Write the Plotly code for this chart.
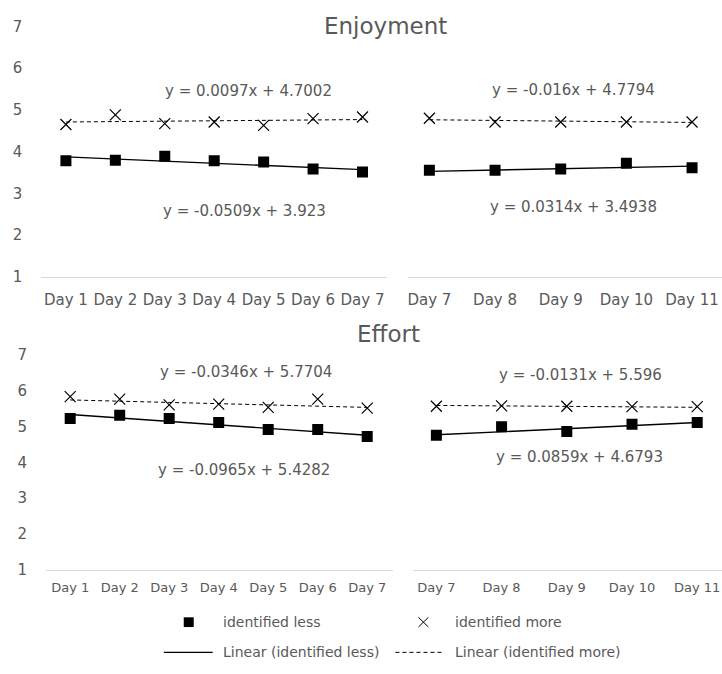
import plotly.graph_objects as go

# ---------------- data ----------------
days_a = ["Day 1", "Day 2", "Day 3", "Day 4", "Day 5", "Day 6", "Day 7"]
days_b = ["Day 7", "Day 8", "Day 9", "Day 10", "Day 11"]

enj_less_a = [3.78, 3.79, 3.89, 3.78, 3.75, 3.58, 3.51]
enj_more_a = [4.65, 4.88, 4.67, 4.71, 4.63, 4.79, 4.83]
enj_less_b = [3.55, 3.55, 3.58, 3.72, 3.61]
enj_more_b = [4.80, 4.71, 4.71, 4.71, 4.71]

eff_less_a = [5.22, 5.31, 5.22, 5.11, 4.91, 4.91, 4.72]
eff_more_a = [5.83, 5.76, 5.60, 5.62, 5.53, 5.76, 5.51]
eff_less_b = [4.75, 4.99, 4.86, 5.06, 5.11]
eff_more_b = [5.56, 5.57, 5.56, 5.55, 5.55]

# trendline coefficients (slope, intercept) as printed on the chart
trend_slopes = {"enj_less_a": -0.0509, "enj_more_a": 0.0097,
                "enj_less_b": 0.0314, "enj_more_b": -0.016,
                "eff_less_a": -0.0965, "eff_more_a": -0.0346,
                "eff_less_b": 0.0859, "eff_more_b": -0.0131}
trend_intercepts = {"enj_less_a": 3.923, "enj_more_a": 4.7002,
                    "enj_less_b": 3.4938, "enj_more_b": 4.7794,
                    "eff_less_a": 5.4282, "eff_more_a": 5.7704,
                    "eff_less_b": 4.6793, "eff_more_b": 5.596}

y_ticks = [1, 2, 3, 4, 5, 6, 7]
titles = ["Enjoyment", "Effort"]
legend_labels = ["identified less", "identified more",
                 "Linear (identified less)", "Linear (identified more)"]

# ---------------- styling ----------------
W, H = 722, 674
FONT = "DejaVu Sans"
GRAY = "#595959"
AXIS = "#d9d9d9"


def px(x):
    return x / W


def py(y):
    return 1 - y / H


fig = go.Figure()

panels = [
    ("enj", "a", days_a, enj_less_a, enj_more_a, ""),
    ("enj", "b", days_b, enj_less_b, enj_more_b, "2"),
    ("eff", "a", days_a, eff_less_a, eff_more_a, "3"),
    ("eff", "b", days_b, eff_less_b, eff_more_b, "4"),
]

for grp, part, cats, less, more, ax in panels:
    xa, ya = "x" + ax, "y" + ax
    n = len(cats)
    k_less = f"{grp}_less_{part}"
    k_more = f"{grp}_more_{part}"
    tl = [trend_slopes[k_less] * (i + 1) + trend_intercepts[k_less] for i in range(n)]
    tm = [trend_slopes[k_more] * (i + 1) + trend_intercepts[k_more] for i in range(n)]
    fig.add_trace(go.Scatter(x=cats, y=tl, mode="lines", xaxis=xa, yaxis=ya,
                             line=dict(color="black", width=1.4), hoverinfo="skip"))
    fig.add_trace(go.Scatter(x=cats, y=tm, mode="lines", xaxis=xa, yaxis=ya,
                             line=dict(color="black", width=1, dash="4px,3px"),
                             hoverinfo="skip"))
    fig.add_trace(go.Scatter(x=cats, y=less, mode="markers", xaxis=xa, yaxis=ya,
                             marker=dict(symbol="square", size=11, color="black")))
    fig.add_trace(go.Scatter(x=cats, y=more, mode="markers", xaxis=xa, yaxis=ya,
                             marker=dict(symbol="x-thin", size=11,
                                         line=dict(color="black", width=1.2))))

common_x = dict(type="category", showline=True, linecolor=AXIS, linewidth=1,
                showgrid=False, zeroline=False, ticks="", fixedrange=True)
common_y = dict(range=[1, 7], tickvals=y_ticks, showgrid=False, zeroline=False,
                showline=False, ticks="", fixedrange=True)

top_dom = [py(275), py(18)]
bot_dom = [py(576.5), py(355)]

fig.update_layout(
    width=W, height=H, margin=dict(l=0, r=0, t=0, b=0),
    paper_bgcolor="white", plot_bgcolor="white", showlegend=False,
    font=dict(family=FONT, color=GRAY),
    xaxis=dict(common_x, domain=[px(40.25), px(386.75)], range=[-0.5, 6.5],
               anchor="y", tickfont=dict(size=15, color=GRAY, family=FONT),
               ticklabelstandoff=9),
    yaxis=dict(common_y, domain=top_dom, anchor="x",
               tickfont=dict(size=15, color=GRAY, family=FONT),
               ticklabelstandoff=18),
    xaxis2=dict(common_x, domain=[px(408), 1], range=[-0.319, 4.456],
                anchor="y2", tickfont=dict(size=15, color=GRAY, family=FONT),
                ticklabelstandoff=9),
    yaxis2=dict(common_y, domain=top_dom, anchor="x2", showticklabels=False),
    xaxis3=dict(common_x, domain=[px(45), px(393)], range=[-0.49, 6.53],
                anchor="y3", tickfont=dict(size=13, color=GRAY, family=FONT),
                ticklabelstandoff=5),
    yaxis3=dict(common_y, domain=bot_dom, anchor="x3",
                tickfont=dict(size=15, color=GRAY, family=FONT),
                ticklabelstandoff=18),
    xaxis4=dict(common_x, domain=[px(413), 1], range=[-0.352, 4.38],
                anchor="y4", tickfont=dict(size=13, color=GRAY, family=FONT),
                ticklabelstandoff=5),
    yaxis4=dict(common_y, domain=bot_dom, anchor="x4", showticklabels=False),
)

annotations = []


def ann(text, x, y, size, xanchor="center"):
    return dict(text=text, x=px(x), y=py(y), xref="paper", yref="paper",
                xanchor=xanchor, yanchor="middle", showarrow=False,
                font=dict(size=size, color=GRAY, family=FONT))


annotations.append(ann(titles[0], 385, 17, 23))
annotations.append(ann(titles[1], 388, 334, 23))


def eq(key):
    return f"y = {trend_slopes[key]}x + {trend_intercepts[key]}"


eq_pos = [
    ("enj_more_a", 248, 84), ("enj_less_a", 244, 208),
    ("enj_more_b", 573, 83), ("enj_less_b", 573, 203),
    ("eff_more_a", 245, 373), ("eff_less_a", 243, 474),
    ("eff_more_b", 580, 376), ("eff_less_b", 579, 460),
]
for key, ex, ey in eq_pos:
    annotations.append(ann(eq(key), ex, ey, 15))

leg_text_pos = [(220, 630), (453, 630), (220, 661), (453, 661)]
for lab, (lx, ly) in zip(legend_labels, leg_text_pos):
    annotations.append(ann(lab, lx, ly, 14, xanchor="left"))
fig.update_layout(annotations=annotations)

shapes = [
    dict(type="rect", xref="paper", yref="paper", x0=px(183), x1=px(193),
         y0=py(635), y1=py(625), fillcolor="black", line=dict(width=0)),
    dict(type="line", xref="paper", yref="paper", x0=px(418), x1=px(428),
         y0=py(625), y1=py(635), line=dict(color="black", width=1)),
    dict(type="line", xref="paper", yref="paper", x0=px(418), x1=px(428),
         y0=py(635), y1=py(625), line=dict(color="black", width=1)),
    dict(type="line", xref="paper", yref="paper", x0=px(163), x1=px(212),
         y0=py(661), y1=py(661), line=dict(color="black", width=1.4)),
    dict(type="line", xref="paper", yref="paper", x0=px(395), x1=px(442),
         y0=py(661), y1=py(661), line=dict(color="black", width=1, dash="4px,3px")),
]
fig.update_layout(shapes=shapes)

fig.write_html("out.html", config={"displayModeBar": False},
               post_script="document.body.style.margin='0';document.body.style.overflow='hidden';")
